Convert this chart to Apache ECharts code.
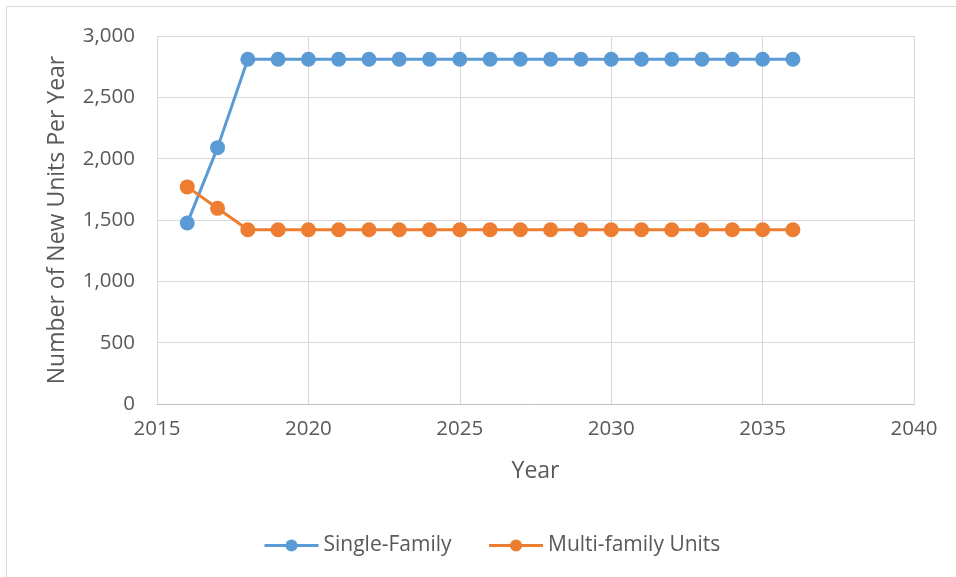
<!DOCTYPE html>
<html><head><meta charset="utf-8">
<script src="https://cdn.jsdelivr.net/npm/echarts@6/dist/echarts.min.js"></script>
<style>html,body{margin:0;padding:0;background:#fff}#c{width:956px;height:577px}</style>
</head><body><div id="c"></div>
<script>
const years = [2016,2017,2018,2019,2020,2021,2022,2023,2024,2025,2026,2027,2028,2029,2030,2031,2032,2033,2034,2035,2036];
const singleFamily = [1475,2090,2810,2810,2810,2810,2810,2810,2810,2810,2810,2810,2810,2810,2810,2810,2810,2810,2810,2810,2810];
const multiFamily = [1770,1595,1420,1420,1420,1420,1420,1420,1420,1420,1420,1420,1420,1420,1420,1420,1420,1420,1420,1420,1420];
const seriesNames = ['Single-Family','Multi-family Units'];
const xTitle = 'Year';
const yTitle = 'Number of New Units Per Year';

const font = '"Open Sans", sans-serif';
const chart = echarts.init(document.getElementById('c'));
chart.setOption({
  animation:false,
  textStyle:{fontFamily:font},
  graphic:[{type:'rect',shape:{x:6.5,y:6.5,width:960,height:580},style:{fill:'none',stroke:'#d9d9d9',lineWidth:1}}],
  grid:{left:157,right:42,top:36,bottom:173},
  legend:{top:530,left:258,itemWidth:54,itemHeight:15,itemGap:36,
    lineStyle:{width:3},
    textStyle:{fontSize:21,color:'#595959',fontFamily:font},
    data:seriesNames},
  xAxis:{type:'value',min:2015,max:2040,interval:5,
    name:xTitle,nameLocation:'middle',nameGap:56,
    nameTextStyle:{fontSize:23,color:'#595959',fontFamily:font},
    axisLine:{show:true,lineStyle:{color:'#bfbfbf',width:1}},
    axisTick:{show:false},
    axisLabel:{fontSize:20.5,color:'#595959',margin:15,fontFamily:font,formatter:v=>String(v)},
    splitLine:{show:true,lineStyle:{color:'#d9d9d9',width:1}}},
  yAxis:{type:'value',min:0,max:3000,interval:500,
    name:yTitle,nameLocation:'middle',nameGap:88,
    nameTextStyle:{fontSize:23,color:'#595959',fontFamily:font},
    axisLine:{show:false},axisTick:{show:false},
    axisLabel:{fontSize:20.5,color:'#595959',margin:22,fontFamily:font,
      formatter:v=>v.toLocaleString('en-US')},
    splitLine:{show:true,lineStyle:{color:'#d9d9d9',width:1}}},
  series:[
    {name:seriesNames[0],type:'line',data:years.map((y,i)=>[y,singleFamily[i]]),
     symbol:'circle',symbolSize:15,color:'#5b9bd5',lineStyle:{width:3,color:'#5b9bd5'},itemStyle:{color:'#5b9bd5'}},
    {name:seriesNames[1],type:'line',data:years.map((y,i)=>[y,multiFamily[i]]),
     symbol:'circle',symbolSize:15,color:'#ed7d31',lineStyle:{width:3,color:'#ed7d31'},itemStyle:{color:'#ed7d31'}}
  ]
});
</script></body></html>
